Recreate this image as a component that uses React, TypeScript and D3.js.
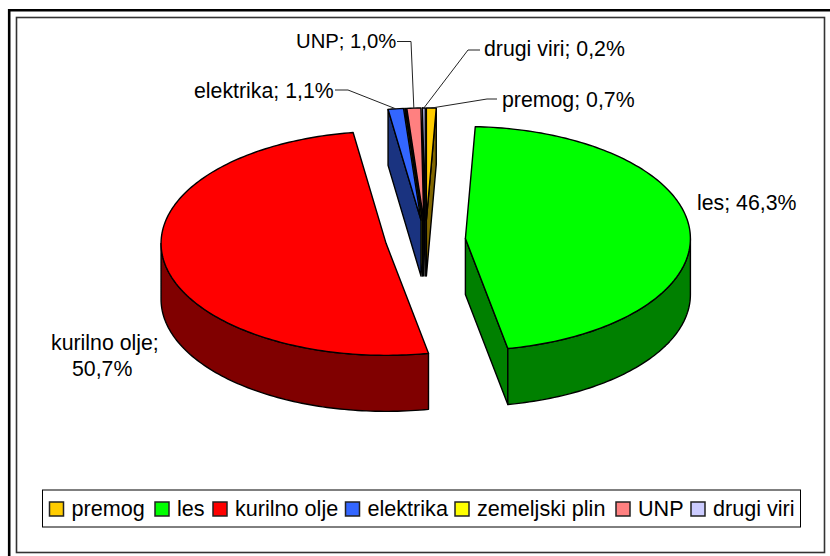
import React from "react";
import * as d3 from "d3";

const categories = ["premog", "les", "kurilno olje", "elektrika", "zemeljski plin", "UNP", "drugi viri"];
const values = [0.7, 46.3, 50.7, 1.1, 0.04, 1.0, 0.2];
const colors = ["#FFCC00", "#00FF00", "#FF0000", "#3366FF", "#FFFF00", "#FF8080", "#CCCCFF"];
const wallColors = ["#806600", "#008000", "#800000", "#1A3380", "#808000", "#804040", "#666680"];
const paintOrder = [0, 6, 5, 4, 3, 2, 1];
const legendKeyX = [49.5, 155, 213, 345.5, 455, 616, 691];

const W = 830, H = 556;
const FONT = "'Liberation Sans', Arial, sans-serif";
const cx = 425.5, cy = 240, rx = 225, ry = 112, depth = 56, explode = 40;

type Label = { lines: string[]; x: number[]; y: number[]; slice?: number; elbow?: [number, number][]; size?: number };
const labels: Label[] = [
  { lines: ["UNP; 1,0%"], x: [296], y: [48], slice: 5, elbow: [[397, 41.5], [411, 41.5]], size: 20.3 },
  { lines: ["drugi viri; 0,2%"], x: [484], y: [56], slice: 6, elbow: [[480, 50], [468, 50]] },
  { lines: ["premog; 0,7%"], x: [502], y: [107], slice: 0, elbow: [[497, 99], [487, 99]] },
  { lines: ["elektrika; 1,1%"], x: [194], y: [98], slice: 3, elbow: [[335, 90], [348, 90]] },
  { lines: ["les; 46,3%"], x: [697], y: [210] },
  { lines: ["kurilno olje;", "50,7%"], x: [51, 72], y: [350, 376] },
];

const arcs = d3.pie<number>().sort(null).value((d) => d)(values);
const line = d3.line<[number, number]>();

function project(a: number, mid: number, r = 1): [number, number] {
  const ox = explode * Math.sin(mid);
  const oy = -explode * Math.cos(mid) * 0.5;
  return [cx + ox + r * rx * Math.sin(a), cy + oy - r * ry * Math.cos(a)];
}
function arcPts(a0: number, a1: number, mid: number): [number, number][] {
  const n = Math.max(2, Math.ceil(Math.abs(a1 - a0) / 0.02));
  return d3.range(n + 1).map((i) => project(a0 + ((a1 - a0) * i) / n, mid));
}
const down = (p: [number, number]): [number, number] => [p[0], p[1] + depth];

function Slice({ i }: { i: number }) {
  const { startAngle: a0, endAngle: a1 } = arcs[i];
  const mid = (a0 + a1) / 2;
  const apex = project(0, mid, 0);
  const walls: [number, number][][] = [];
  if (Math.sin(a0) < 0) {
    const p = project(a0, mid);
    walls.push([p, apex, down(apex), down(p)]);
  }
  if (Math.sin(a1) > 0) {
    const p = project(a1, mid);
    walls.push([p, apex, down(apex), down(p)]);
  }
  const f0 = Math.max(a0, Math.PI / 2), f1 = Math.min(a1, (3 * Math.PI) / 2);
  if (f1 > f0) {
    const top = arcPts(f0, f1, mid);
    walls.push([...top, ...top.slice().reverse().map(down)]);
  }
  const topFace = [apex, ...arcPts(a0, a1, mid)];
  return (
    <g stroke="#000" strokeWidth={1.4} strokeLinejoin="round">
      {walls.map((w, k) => (
        <path key={k} d={line(w) + "Z"} fill={wallColors[i]} />
      ))}
      <path d={line(topFace) + "Z"} fill={colors[i]} />
    </g>
  );
}

export default function App() {
  return (
    <svg width={W} height={H} viewBox={`0 0 ${W} ${H}`} style={{ position: "fixed", left: 0, top: 0, display: "block", background: "#fff" }}>
      <rect x={0} y={0} width={W} height={H} fill="#fff" />
      <path d={`M9.2 ${H}V10.3H${W}`} fill="none" stroke="#000" strokeWidth={2.6} />
      <rect x={16.5} y={17.5} width={808} height={535} fill="#fff" stroke="#333" strokeWidth={1.6} />

      {paintOrder.map((i) => (
        <Slice key={i} i={i} />
      ))}

      <g fontFamily={FONT} fontSize={21.3} fill="#000">
        {labels.map((l, k) => {
          let leader = null;
          if (l.slice !== undefined && l.elbow) {
            const a = arcs[l.slice];
            const m = (a.startAngle + a.endAngle) / 2;
            const end = project(m, m);
            leader = <path d={line([...l.elbow, end]) ?? ""} fill="none" stroke="#222" strokeWidth={1} />;
          }
          return (
            <g key={k}>
              {leader}
              {l.lines.map((t, j) => (
                <text key={j} x={l.x[j]} y={l.y[j]} fontSize={l.size}>{t}</text>
              ))}
            </g>
          );
        })}
      </g>

      <rect x={42.5} y={490} width={758} height={37} fill="#fff" stroke="#000" strokeWidth={1} />
      <g fontFamily={FONT} fontSize={21.6} fill="#000">
        {categories.map((c, i) => (
          <g key={c}>
            <rect x={legendKeyX[i]} y={502} width={14} height={14} fill={colors[i]} stroke="#222" strokeWidth={1.5} />
            <text x={legendKeyX[i] + 22} y={516}>{c}</text>
          </g>
        ))}
      </g>
    </svg>
  );
}
